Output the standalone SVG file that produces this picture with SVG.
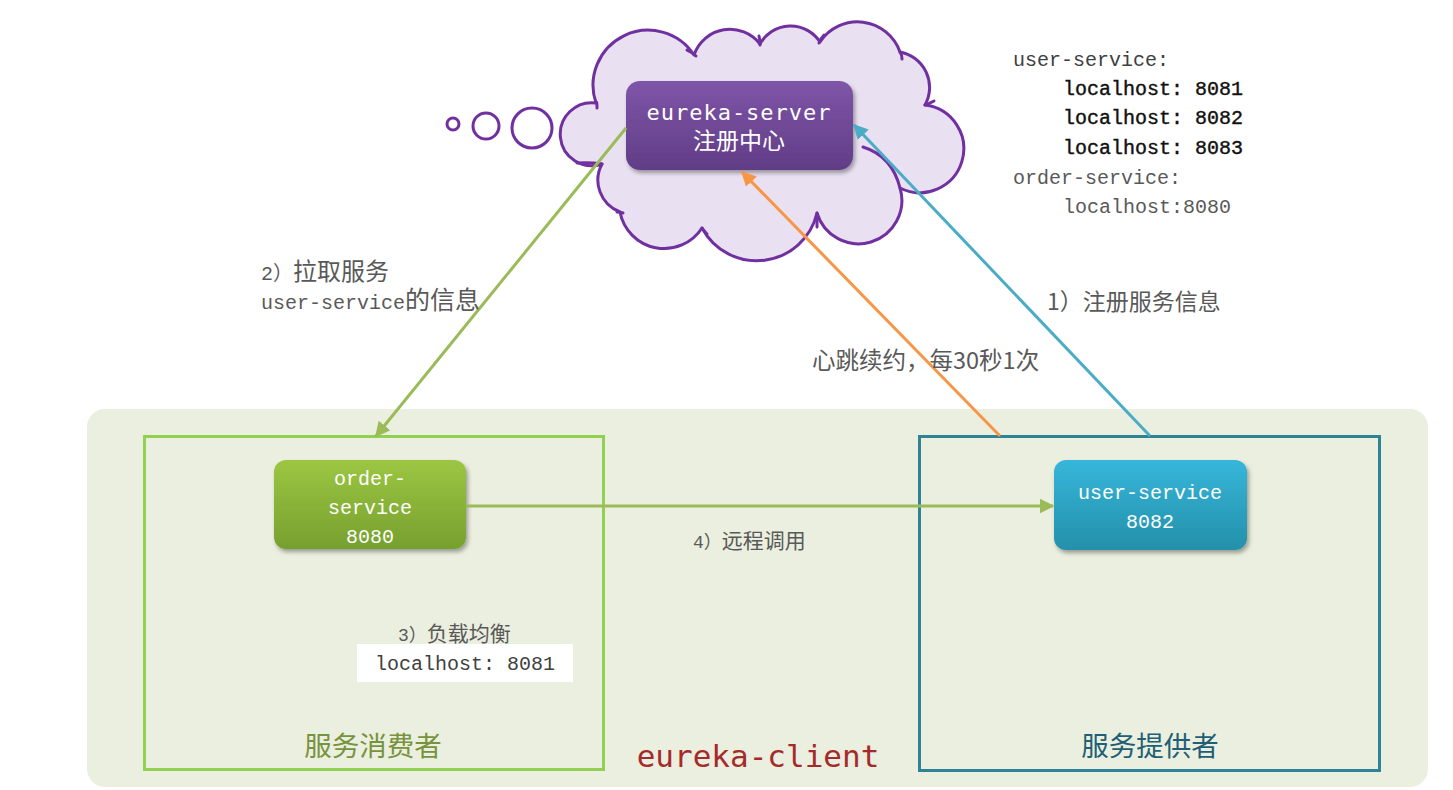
<svg xmlns="http://www.w3.org/2000/svg" width="1453" height="790" viewBox="0 0 1453 790">
<style>
.mono{font-family:"Liberation Mono","Noto Sans CJK SC",monospace;}
.cjk{font-family:"Noto Sans CJK SC",sans-serif;}
.lbl{fill:#595959;font-size:20px;}
.node{fill:#ffffff;font-size:20px;text-anchor:middle;}
.crease{fill:none;stroke:#7030a0;stroke-width:3;stroke-linecap:round;}
</style>
<defs>
<linearGradient id="gPurple" x1="0" y1="0" x2="0" y2="1"><stop offset="0" stop-color="#7e55a8"/><stop offset="1" stop-color="#613d86"/></linearGradient>
<linearGradient id="gGreen" x1="0" y1="0" x2="0" y2="1"><stop offset="0" stop-color="#9cc642"/><stop offset="1" stop-color="#76a02e"/></linearGradient>
<linearGradient id="gBlue" x1="0" y1="0" x2="0" y2="1"><stop offset="0" stop-color="#36b6da"/><stop offset="1" stop-color="#2490aa"/></linearGradient>
<filter id="shadow" x="-10%" y="-10%" width="125%" height="130%"><feDropShadow dx="2" dy="3" stdDeviation="2" flood-color="#000" flood-opacity="0.35"/></filter>
<marker id="mGreen" viewBox="0 0 10 10" refX="9" refY="5" markerWidth="5" markerHeight="5" orient="auto" markerUnits="strokeWidth"><path d="M0,0 L10,5 L0,10 z" fill="#9bbb59"/></marker>
<marker id="mOrange" viewBox="0 0 10 10" refX="9" refY="5" markerWidth="5" markerHeight="5" orient="auto" markerUnits="strokeWidth"><path d="M0,0 L10,5 L0,10 z" fill="#f79646"/></marker>
<marker id="mBlue" viewBox="0 0 10 10" refX="9" refY="5" markerWidth="5" markerHeight="5" orient="auto" markerUnits="strokeWidth"><path d="M0,0 L10,5 L0,10 z" fill="#4bacc6"/></marker>
</defs>
<rect width="1453" height="790" fill="#ffffff"/>

<g id="client-area">
<rect x="87" y="409" width="1341" height="378" rx="18" fill="#ebefdf"/>
<text x="758" y="767" style="font-family:'DejaVu Sans Mono',monospace" font-size="31" fill="#a52a2a" text-anchor="middle">eureka-client</text>
</g>

<g id="consumer">
<rect x="144.5" y="436.5" width="459" height="333" fill="none" stroke="#92d050" stroke-width="3"/>
<text x="373" y="756" class="cjk" font-size="27.5" fill="#77933c" text-anchor="middle">服务消费者</text>
</g>

<g id="provider">
<rect x="919.5" y="436.5" width="460" height="334" fill="none" stroke="#2e8397" stroke-width="3"/>
<text x="1150" y="756" class="cjk" font-size="27.5" fill="#215f75" text-anchor="middle">服务提供者</text>
</g>

<g id="cloud">
<path d="M596,103 A55,55 0 0 1 694,55 A38,38 0 0 1 760,44 A35,35 0 0 1 820,42 A45,45 0 0 1 900,52 A36,36 0 0 1 925,105 A44,44 0 1 1 900,188 A42,42 0 0 1 817,213 A62,62 0 0 1 702,228 A45,45 0 0 1 620,212 A34,34 0 0 1 602,164 A31.5,31.5 0 1 1 596,103 Z" fill="#e9e1f1" stroke="#7030a0" stroke-width="3" stroke-linejoin="round"/>
<path class="crease" d="M596,103 Q597,100 597,108"/>
<path class="crease" d="M687,50 Q692,52 696,56"/>
<path class="crease" d="M759,36 Q760,40 760,45"/>
<path class="crease" d="M824,35 Q821,38 819,43"/>
<path class="crease" d="M900,52 Q902,55 902,59"/>
<path class="crease" d="M925,105 Q928,104 934,101"/>
<path class="crease" d="M863,147 Q892,156 900,188"/>
<path class="crease" d="M817,213 Q817,220 817,227"/>
<path class="crease" d="M702,228 Q704,231 707,234"/>
<path class="crease" d="M617,212 Q620,212 623,213"/>
<path class="crease" d="M577,163 Q590,162 602,164"/>
<circle cx="453" cy="124" r="6" fill="none" stroke="#7030a0" stroke-width="3"/>
<circle cx="486" cy="126" r="13" fill="none" stroke="#7030a0" stroke-width="3"/>
<circle cx="532" cy="128" r="20" fill="none" stroke="#7030a0" stroke-width="3"/>
</g>

<g id="eureka-server">
<rect x="626" y="81" width="227" height="89" rx="14" fill="url(#gPurple)" filter="url(#shadow)"/>
<text x="739" y="120" font-family="DejaVu Sans Mono, monospace" font-size="22" letter-spacing="1" fill="#ffffff" text-anchor="middle">eureka-server</text>
<text x="739" y="149" class="cjk" font-size="23" fill="#ffffff" text-anchor="middle">注册中心</text>
</g>

<g id="order-service">
<rect x="274" y="460" width="192" height="89" rx="12" fill="url(#gGreen)" filter="url(#shadow)"/>
<text x="370" y="485" class="mono node">order-</text>
<text x="370" y="514" class="mono node">service</text>
<text x="370" y="543" class="mono node">8080</text>
</g>

<g id="user-service">
<rect x="1054" y="460" width="193" height="90" rx="12" fill="url(#gBlue)" filter="url(#shadow)"/>
<text x="1150" y="499" class="mono node">user-service</text>
<text x="1150" y="528" class="mono node">8082</text>
</g>

<g id="registry-list" class="mono" font-size="20">
<text x="1013" y="66" fill="#404040">user-service:</text>
<text x="1063" y="95" fill="#111111" stroke="#111111" stroke-width="0.4">localhost: 8081</text>
<text x="1063" y="124" fill="#111111" stroke="#111111" stroke-width="0.4">localhost: 8082</text>
<text x="1063" y="154" fill="#111111" stroke="#111111" stroke-width="0.4">localhost: 8083</text>
<text x="1013" y="184" fill="#595959">order-service:</text>
<text x="1063" y="213" fill="#595959">localhost:8080</text>
</g>

<g id="load-balance">
<rect x="357" y="644" width="216" height="38" fill="#ffffff"/>
<text x="398" y="641" class="mono" font-size="18" fill="#595959">3）<tspan class="cjk" font-size="21">负载均衡</tspan></text>
<text x="375" y="670" class="mono" font-size="20" fill="#404040">localhost: 8081</text>
</g>

<g id="connectors" fill="none" stroke-width="3">
<line x1="626" y1="128" x2="376" y2="436" stroke="#9bbb59" marker-end="url(#mGreen)"/>
<line x1="1000" y1="436" x2="742" y2="172" stroke="#f79646" marker-end="url(#mOrange)"/>
<line x1="1150" y1="436" x2="854" y2="125" stroke="#4bacc6" marker-end="url(#mBlue)"/>
<line x1="466" y1="506" x2="1053" y2="506" stroke="#9bbb59" marker-end="url(#mGreen)"/>
</g>

<g id="labels" class="mono lbl">
<text x="261" y="280">2）<tspan class="cjk" font-size="24">拉取服务</tspan></text>
<text x="261" y="309">user-service<tspan class="cjk" font-size="25">的信息</tspan></text>
<text x="1047" y="310" class="cjk" font-size="23">1）注册服务信息</text>
<text x="812" y="369" class="cjk" font-size="23.5">心跳续约，每30秒1次</text>
<text x="693" y="548" font-size="18">4）<tspan class="cjk" font-size="21">远程调用</tspan></text>
</g>
</svg>
